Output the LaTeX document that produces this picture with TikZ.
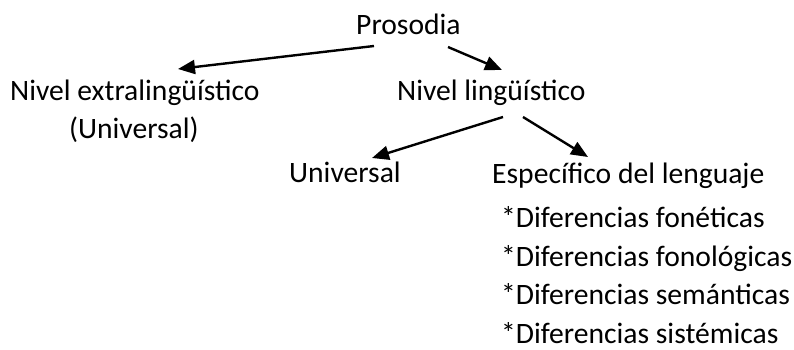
\documentclass[tikz,border=0pt]{standalone}
\usepackage{fontspec}
\setmainfont{Carlito}
\usetikzlibrary{arrows.meta}
\begin{document}
\begin{tikzpicture}[x=1pt,y=-1pt,
  lbl/.style={anchor=base west,inner sep=0pt,font=\fontsize{29.6}{34}\selectfont},
  arr/.style={line width=2.4pt,-{Triangle[length=17pt,width=14pt]}}]
\useasboundingbox (0,0) rectangle (794,350);
\node[lbl] (pros) at (356,35) {Prosodia};
\node[lbl] (ext) at (10,100) {Nivel extralingüístico};
\node[lbl] (extu) at (69,139) {(Universal)};
\node[lbl] (ling) at (397,100) {Nivel lingüístico};
\node[lbl] (univ) at (289,182) {Universal};
\node[lbl] (esp) at (492,183) {Específico del lenguaje};
\node[lbl] (d1) at (501,227) {*Diferencias fonéticas};
\node[lbl] (d2) at (501,266) {*Diferencias fonológicas};
\node[lbl] (d3) at (501,304) {*Diferencias semánticas};
\node[lbl] (d4) at (501,343) {*Diferencias sistémicas};
\draw[arr] ([shift={(18,11)}]pros.base west) -- ([shift={(168,-31)}]ext.base west);
\draw[arr] ([shift={(92,12)}]pros.base west) -- ([shift={(105,-30)}]ling.base west);
\draw[arr] ([shift={(106,17)}]ling.base west) -- ([shift={(83,-24)}]univ.base west);
\draw[arr] ([shift={(126,17)}]ling.base west) -- ([shift={(96,-26)}]esp.base west);
\end{tikzpicture}
\end{document}
